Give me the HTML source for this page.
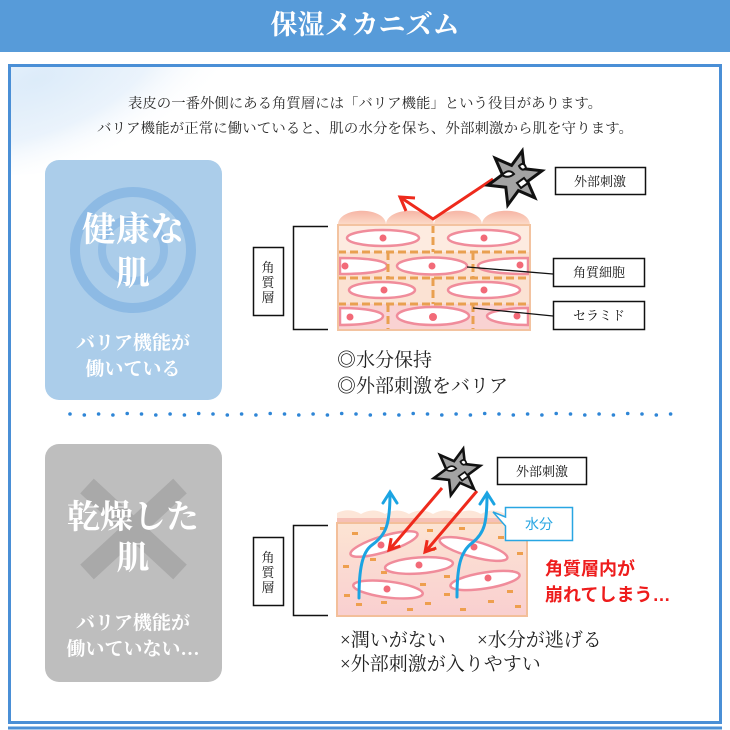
<!DOCTYPE html>
<html><head><meta charset="utf-8">
<style>
html,body{margin:0;padding:0;background:#fff;}
svg{display:block;}
.s{font-family:"Liberation Serif","Noto Serif CJK SC",serif;}
.g{font-family:"Liberation Sans","Noto Sans CJK JP",sans-serif;}
</style></head>
<body>
<svg width="730" height="730" viewBox="0 0 730 730" xmlns="http://www.w3.org/2000/svg">
<defs>
  <radialGradient id="wash" cx="0.35" cy="0.25" r="0.75">
    <stop offset="0" stop-color="#d6e8f8"/>
    <stop offset="0.55" stop-color="#e7f1fb"/>
    <stop offset="1" stop-color="#ffffff" stop-opacity="0"/>
  </radialGradient>
  <linearGradient id="bump" x1="0" y1="0" x2="0" y2="1">
    <stop offset="0" stop-color="#f6b5a5"/>
    <stop offset="1" stop-color="#fcdcca"/>
  </linearGradient>
  <linearGradient id="dry" x1="0" y1="0" x2="0" y2="1">
    <stop offset="0" stop-color="#fce4d3"/>
    <stop offset="1" stop-color="#f9cfd0"/>
  </linearGradient>
  <clipPath id="topblk"><rect x="338" y="225" width="192" height="105"/></clipPath>
  <clipPath id="frame"><rect x="11" y="67" width="708" height="654"/></clipPath>
  <g id="star">
    <polygon points="7.2,-27 9.2,-9.2 27,-7.2 12.6,3.4 19.8,19.8 3.4,12.6 -7.2,27 -9.2,9.2 -27,7.2 -12.6,-3.4 -19.8,-19.8 -3.4,-12.6" fill="#a3a3a3" stroke="#111" stroke-width="3" stroke-linejoin="miter"/>
    <path d="M-13,-3 Q-6,-10 -1,-4 Q-7,1 -13,-3 Z" fill="#fff" stroke="#111" stroke-width="2"/>
    <path d="M2,5 L9,0 L13,5 L6,10 Z" fill="#fff" stroke="#111" stroke-width="2"/>
    <path d="M4,-12 Q9,-17 11,-10 Q7,-6 4,-12 Z" fill="#fff" stroke="#111" stroke-width="2"/>
  </g>
</defs>

<!-- header -->
<rect x="0" y="0" width="730" height="52" fill="#579bd9"/>
<text x="365" y="34" class="s" font-size="27" font-weight="bold" fill="#fff" text-anchor="middle">保湿メカニズム</text>

<!-- wash -->
<g clip-path="url(#frame)">
  <ellipse cx="90" cy="95" rx="150" ry="65" fill="url(#wash)" transform="rotate(-20 90 95)" opacity="0.85"/>
</g>

<!-- frame -->
<rect x="9.5" y="65.5" width="711" height="657" fill="none" stroke="#4a8fd6" stroke-width="3"/>
<line x1="8" y1="728" x2="722" y2="728" stroke="#4a8fd6" stroke-width="3"/>

<!-- intro -->
<text x="128" y="108" class="s" font-size="14" fill="#2a2a2a" textLength="474" lengthAdjust="spacingAndGlyphs">表皮の一番外側にある角質層には「バリア機能」という役目があります。</text>
<text x="97" y="133" class="s" font-size="14" fill="#2a2a2a" textLength="536" lengthAdjust="spacingAndGlyphs">バリア機能が正常に働いていると、肌の水分を保ち、外部刺激から肌を守ります。</text>

<!-- top card -->
<rect x="45" y="160" width="177" height="240" rx="14" fill="#abcdea"/>
<circle cx="133" cy="250" r="58" fill="none" stroke="#8dbae4" stroke-width="10"/>
<circle cx="133" cy="250" r="31" fill="none" stroke="#92bde5" stroke-width="8"/>
<text x="133" y="241" class="s" font-size="34" font-weight="bold" fill="#fff" text-anchor="middle">健康な</text>
<text x="133" y="285" class="s" font-size="34" font-weight="bold" fill="#fff" text-anchor="middle">肌</text>
<text x="133" y="349" class="s" font-size="19" font-weight="bold" fill="#fff" text-anchor="middle">バリア機能が</text>
<text x="133" y="375" class="s" font-size="19" font-weight="bold" fill="#fff" text-anchor="middle">働いている</text>

<!-- top diagram -->
<rect x="253.5" y="247.5" width="30" height="68" fill="#fff" stroke="#111" stroke-width="1.5"/>
<text x="268" y="272" class="s" font-size="13" fill="#111" text-anchor="middle">角</text>
<text x="268" y="287" class="s" font-size="13" fill="#111" text-anchor="middle">質</text>
<text x="268" y="302" class="s" font-size="13" fill="#111" text-anchor="middle">層</text>
<path d="M328,226.5 L293.5,226.5 L293.5,329.5 L328,329.5" fill="none" stroke="#111" stroke-width="1.5"/>

<path d="M338,225 C338,206 386,206 386,225 C386,206 434,206 434,225 C434,206 482,206 482,225 C482,206 530,206 530,225 Z" fill="url(#bump)"/>
<g clip-path="url(#topblk)">
  <rect x="338" y="225" width="192" height="27" fill="#fdebe0"/>
  <rect x="338" y="252" width="192" height="26" fill="#fce0cf"/>
  <rect x="338" y="278" width="192" height="26" fill="#fbe2d3"/>
  <rect x="338" y="304" width="192" height="26" fill="#f9d2d2"/>
  <g fill="#fff" stroke="#f08c9b" stroke-width="2.5">
    <ellipse cx="383" cy="238" rx="36" ry="8"/>
    <ellipse cx="484" cy="238" rx="36" ry="8"/>
    <path d="M340,258 C370,258 387,261 387,266 C387,271 370,274 340,274 Z"/>
    <ellipse cx="432" cy="266" rx="35" ry="8.5"/>
    <path d="M528,258 C498,258 478,261 478,266 C478,271 498,274 528,274 Z"/>
    <ellipse cx="382" cy="290" rx="33" ry="8"/>
    <ellipse cx="484" cy="290" rx="36" ry="8"/>
    <path d="M340,308 C368,308 383,312 383,316 C383,321 368,325 340,325 Z"/>
    <ellipse cx="433" cy="316" rx="36" ry="9"/>
    <path d="M528,308 C505,308 487,312 487,316 C487,321 505,325 528,325 Z"/>
  </g>
  <g fill="#f26a78">
    <circle cx="383" cy="238" r="3.5"/><circle cx="484" cy="238" r="3.5"/>
    <circle cx="345" cy="266" r="3.5"/><circle cx="432" cy="266" r="3.5"/><circle cx="520" cy="265" r="3.5"/>
    <circle cx="384" cy="290" r="3.5"/><circle cx="484" cy="290" r="3.5"/>
    <circle cx="350" cy="317" r="3.5"/><circle cx="433" cy="317" r="4"/><circle cx="517" cy="316" r="3.5"/>
  </g>
  <g stroke="#e9a050" stroke-width="3" stroke-dasharray="8 4" fill="none">
    <line x1="338" y1="252" x2="530" y2="252"/>
    <line x1="338" y1="278" x2="530" y2="278"/>
    <line x1="338" y1="304" x2="530" y2="304"/>
    <line x1="433" y1="225" x2="433" y2="252"/>
    <line x1="388" y1="252" x2="388" y2="278"/>
    <line x1="473" y1="252" x2="473" y2="278"/>
    <line x1="433" y1="278" x2="433" y2="304"/>
    <line x1="388" y1="304" x2="388" y2="330"/>
    <line x1="473" y1="304" x2="473" y2="330"/>
  </g>
</g>
<rect x="338" y="225" width="192" height="105" fill="none" stroke="#f3c3a0" stroke-width="2"/>

<!-- top leader lines and labels -->
<line x1="467" y1="267" x2="553" y2="274" stroke="#111" stroke-width="1.3"/>
<line x1="473" y1="308" x2="553" y2="316" stroke="#111" stroke-width="1.3"/>
<rect x="555.5" y="167.5" width="90" height="27" fill="#fff" stroke="#111" stroke-width="1.5"/>
<text x="600" y="186" class="s" font-size="13" fill="#111" text-anchor="middle">外部刺激</text>
<rect x="553.5" y="258.5" width="91" height="28" fill="#fff" stroke="#111" stroke-width="1.5"/>
<text x="599" y="277" class="s" font-size="13" fill="#111" text-anchor="middle">角質細胞</text>
<rect x="553.5" y="301.5" width="91" height="28" fill="#fff" stroke="#111" stroke-width="1.5"/>
<text x="599" y="320" class="s" font-size="13" fill="#111" text-anchor="middle">セラミド</text>

<!-- top red arrow -->
<polyline points="493,179 433,219 400,197" fill="none" stroke="#ee2a1c" stroke-width="3" stroke-linejoin="miter"/>
<polyline points="415,198 400,197 406,211" fill="none" stroke="#ee2a1c" stroke-width="3"/>
<use href="#star" transform="translate(515,178)"/>

<text x="337" y="366" class="s" font-size="19" fill="#222">◎水分保持</text>
<text x="337" y="392" class="s" font-size="19" fill="#222">◎外部刺激をバリア</text>

<!-- dotted separator -->
<g fill="#2f86d6">
  <circle cx="70" cy="414" r="1.8"/><circle cx="84.3" cy="415" r="1.8"/><circle cx="98.6" cy="414" r="1.8"/><circle cx="112.9" cy="415" r="1.8"/><circle cx="127.2" cy="413.5" r="1.8"/><circle cx="141.5" cy="414" r="1.8"/><circle cx="155.8" cy="415" r="1.8"/><circle cx="170.1" cy="414" r="1.8"/><circle cx="184.4" cy="415" r="1.8"/><circle cx="198.7" cy="413.5" r="1.8"/><circle cx="213" cy="414" r="1.8"/><circle cx="227.3" cy="415" r="1.8"/><circle cx="241.6" cy="414" r="1.8"/><circle cx="255.9" cy="415" r="1.8"/><circle cx="270.2" cy="413.5" r="1.8"/><circle cx="284.5" cy="414" r="1.8"/><circle cx="298.8" cy="415" r="1.8"/><circle cx="313.1" cy="414" r="1.8"/><circle cx="327.4" cy="415" r="1.8"/><circle cx="341.7" cy="413.5" r="1.8"/><circle cx="356" cy="414" r="1.8"/><circle cx="370.3" cy="415" r="1.8"/><circle cx="384.6" cy="414" r="1.8"/><circle cx="398.9" cy="415" r="1.8"/><circle cx="413.2" cy="413.5" r="1.8"/><circle cx="427.5" cy="414" r="1.8"/><circle cx="441.8" cy="415" r="1.8"/><circle cx="456.1" cy="414" r="1.8"/><circle cx="470.4" cy="415" r="1.8"/><circle cx="484.7" cy="413.5" r="1.8"/><circle cx="499" cy="414" r="1.8"/><circle cx="513.3" cy="415" r="1.8"/><circle cx="527.6" cy="414" r="1.8"/><circle cx="541.9" cy="415" r="1.8"/><circle cx="556.2" cy="413.5" r="1.8"/><circle cx="570.5" cy="414" r="1.8"/><circle cx="584.8" cy="415" r="1.8"/><circle cx="599.1" cy="414" r="1.8"/><circle cx="613.4" cy="415" r="1.8"/><circle cx="627.7" cy="413.5" r="1.8"/><circle cx="642" cy="414" r="1.8"/><circle cx="656.3" cy="415" r="1.8"/><circle cx="670.6" cy="414" r="1.8"/>
</g>

<!-- bottom card -->
<rect x="45" y="444" width="177" height="238" rx="14" fill="#bebebe"/>
<line x1="87" y1="486" x2="180" y2="572" stroke="#a9a9a9" stroke-width="20"/>
<line x1="180" y1="486" x2="87" y2="572" stroke="#a9a9a9" stroke-width="20"/>
<text x="133" y="528" class="s" font-size="33" font-weight="bold" fill="#fff" text-anchor="middle">乾燥した</text>
<text x="133" y="569" class="s" font-size="33" font-weight="bold" fill="#fff" text-anchor="middle">肌</text>
<text x="133" y="629" class="s" font-size="19" font-weight="bold" fill="#fff" text-anchor="middle">バリア機能が</text>
<text x="133" y="655" class="s" font-size="19" font-weight="bold" fill="#fff" text-anchor="middle">働いていない…</text>

<!-- bottom diagram -->
<rect x="253.5" y="537.5" width="30" height="68" fill="#fff" stroke="#111" stroke-width="1.5"/>
<text x="268" y="562" class="s" font-size="13" fill="#111" text-anchor="middle">角</text>
<text x="268" y="577" class="s" font-size="13" fill="#111" text-anchor="middle">質</text>
<text x="268" y="592" class="s" font-size="13" fill="#111" text-anchor="middle">層</text>
<path d="M328,525.5 L293.5,525.5 L293.5,615.5 L328,615.5" fill="none" stroke="#111" stroke-width="1.5"/>

<path d="M337,523 L337,513 Q349,507 361,514 Q373,507 385,514 Q397,507 409,514 Q421,507 433,514 Q445,507 457,514 Q469,507 481,514 Q493,507 505,514 Q516,507 527,513 L527,523 Z" fill="#fde6d8"/>
<rect x="337" y="518" width="190" height="5" fill="#f6c0b6"/>
<rect x="337" y="523" width="190" height="93" fill="url(#dry)" stroke="#f3bf9a" stroke-width="2"/>
<g fill="#ee9f4e">
  <rect x="352" y="532" width="6" height="3"/><rect x="380" y="527" width="6" height="3"/><rect x="427" y="529" width="6" height="3"/><rect x="459" y="527" width="6" height="3"/><rect x="498" y="536" width="6" height="3"/><rect x="517" y="552" width="6" height="3"/><rect x="343" y="565" width="6" height="3"/><rect x="370" y="558" width="6" height="3"/><rect x="429" y="548" width="6" height="3"/><rect x="381" y="571" width="6" height="3"/><rect x="444" y="575" width="6" height="3"/><rect x="344" y="594" width="6" height="3"/><rect x="356" y="603" width="6" height="3"/><rect x="381" y="601" width="6" height="3"/><rect x="407" y="608" width="6" height="3"/><rect x="425" y="602" width="6" height="3"/><rect x="444" y="593" width="6" height="3"/><rect x="460" y="608" width="6" height="3"/><rect x="488" y="600" width="6" height="3"/><rect x="515" y="605" width="6" height="3"/><rect x="507" y="570" width="6" height="3"/><rect x="420" y="583" width="6" height="3"/><rect x="507" y="590" width="6" height="3"/>
</g>
<g fill="#fff" stroke="#f08c9b" stroke-width="2.5">
  <ellipse cx="384" cy="544" rx="35" ry="8" transform="rotate(-17 384 544)"/>
  <ellipse cx="419" cy="565.5" rx="34" ry="8" transform="rotate(-4 419 565.5)"/>
  <ellipse cx="473.5" cy="549" rx="35" ry="8" transform="rotate(15 473.5 549)"/>
  <ellipse cx="388" cy="589.5" rx="35" ry="8" transform="rotate(7 388 589.5)"/>
  <ellipse cx="485" cy="580.5" rx="35" ry="8" transform="rotate(-9 485 580.5)"/>
</g>
<g fill="#f26a78">
  <circle cx="381" cy="545" r="3.5"/><circle cx="419" cy="565" r="3.5"/><circle cx="474" cy="547" r="3.5"/><circle cx="387" cy="589" r="3.5"/><circle cx="488" cy="578" r="3.5"/>
</g>
<!-- blue arrows -->
<g fill="none" stroke="#1ba4e2" stroke-width="3" stroke-linecap="round">
  <path d="M359,598 C359,570 362,552 372,545 C386,535 390,525 390,493"/>
  <polyline points="383,503 390,492 397,503"/>
  <path d="M457,597 C457,568 460,552 472,543 C485,533 487,522 487,494"/>
  <polyline points="480,504 487,493 494,504"/>
</g>
<!-- red arrows -->
<g fill="none" stroke="#ee2a1c" stroke-width="3">
  <line x1="442" y1="488" x2="390" y2="549"/>
  <polyline points="400.3,546 389,550 391.2,538.2"/>
  <line x1="477" y1="491" x2="426" y2="551"/>
  <polyline points="436.3,548 425,552 427.2,540.2"/>
</g>
<use href="#star" transform="translate(457,472) scale(0.86)"/>

<rect x="497.5" y="457.5" width="89" height="27" fill="#fff" stroke="#111" stroke-width="1.5"/>
<text x="542" y="476" class="s" font-size="13" fill="#111" text-anchor="middle">外部刺激</text>
<path d="M505.5,507.5 L572.5,507.5 L572.5,540.5 L505.5,540.5 L505.5,526 L493,512 L505.5,517 Z" fill="#fff" stroke="#29a6e2" stroke-width="1.5"/>
<text x="539" y="529" class="g" font-size="14" fill="#29a6e2" text-anchor="middle">水分</text>

<text x="545" y="575" class="g" font-size="18" font-weight="bold" fill="#ee1c1c">角質層内が</text>
<text x="545" y="601" class="g" font-size="18" font-weight="bold" fill="#ee1c1c">崩れてしまう…</text>

<text x="340" y="646" class="s" font-size="19" fill="#222">×潤いがない</text>
<text x="477" y="646" class="s" font-size="19" fill="#222">×水分が逃げる</text>
<text x="340" y="670" class="s" font-size="19" fill="#222">×外部刺激が入りやすい</text>
</svg>
</body></html>
